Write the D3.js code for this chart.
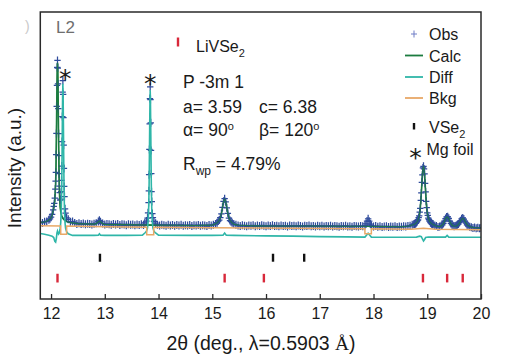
<!DOCTYPE html>
<html><head><meta charset="utf-8">
<script src="https://cdn.jsdelivr.net/npm/d3@7"></script>
<style>
body{margin:0;background:#fff;}
text{font-family:"Liberation Sans",Arial,Helvetica,sans-serif;}
</style></head><body>
<svg id="chart" width="523" height="357"></svg>
<script>
// ---------- data (2θ in degrees, intensity in arbitrary units) ----------
const obs = [
[11.80,31.9],[11.84,31.7],[11.88,32.2],[11.92,32.3],[11.96,33.0],[11.98,33.4],
[12.00,34.1],[12.02,35.3],[12.04,37.1],[12.05,38.6],[12.06,39.8],[12.07,42.0],[12.08,45.8],[12.085,49.1],[12.09,52.8],[12.095,60.2],
[12.10,69.0],[12.105,80.3],[12.11,89.0],[12.115,96.5],[12.12,99.4],[12.125,96.2],[12.13,89.6],[12.135,79.3],[12.14,68.9],[12.145,59.7],
[12.15,52.2],[12.155,47.0],[12.16,44.3],[12.17,41.2],[12.18,41.6],[12.19,44.7],[12.195,49.4],[12.20,55.4],[12.205,65.6],[12.21,76.0],
[12.215,86.2],[12.22,91.0],[12.225,85.3],[12.23,75.6],[12.235,64.1],[12.24,54.4],[12.245,46.9],[12.25,42.7],[12.26,37.6],[12.27,35.8],
[12.29,33.8],[12.32,33.2],[12.36,32.2],[12.40,32.3],
[12.44,31.7],[12.48,31.3],[12.52,31.6],[12.56,31.2],[12.60,31.5],[12.64,31.1],[12.68,31.4],[12.72,31.3],[12.76,31.0],[12.80,31.4],
[12.84,31.6],[12.88,32.3],[12.90,32.8],[12.92,32.2],[12.96,31.5],[13.00,31.0],[13.04,31.3],[13.08,31.1],[13.12,30.9],[13.16,31.3],
[13.20,31.0],[13.24,31.2],[13.28,30.8],[13.32,31.1],[13.36,31.0],[13.40,30.7],[13.44,31.1],[13.48,30.9],[13.52,31.0],[13.56,30.7],
[13.60,31.0],[13.64,30.8],[13.68,31.1],[13.72,30.8],
[13.745,31.7],[13.775,32.5],[13.795,33.7],[13.805,35.9],[13.815,40.2],[13.82,45.1],[13.825,51.8],[13.83,62.3],[13.835,73.0],[13.84,83.5],
[13.845,88.4],[13.85,83.1],[13.855,73.4],[13.86,61.9],[13.865,52.2],[13.87,44.7],[13.875,40.6],[13.885,35.6],[13.895,33.9],[13.915,32.3],[13.945,31.6],
[13.98,30.9],[14.02,30.6],[14.06,30.9],[14.10,30.7],[14.14,30.5],[14.18,30.9],[14.22,30.6],[14.26,30.8],[14.30,30.5],[14.34,30.8],
[14.38,30.6],[14.42,30.9],[14.46,30.5],[14.50,30.7],[14.54,30.6],[14.58,30.8],[14.62,30.4],[14.66,30.7],[14.70,30.6],[14.74,30.8],
[14.78,30.5],[14.82,30.7],[14.86,30.6],[14.90,30.4],[14.94,30.8],[14.98,30.6],[15.02,30.9],[15.06,31.2],
[15.09,31.8],[15.11,32.5],[15.13,32.9],[15.15,33.9],[15.17,35.5],[15.19,38.2],[15.21,40.7],[15.23,41.8],[15.25,40.5],[15.27,38.0],
[15.29,35.7],[15.31,33.7],[15.33,32.7],[15.35,32.2],[15.37,31.8],[15.40,31.2],
[15.44,30.9],[15.48,30.6],[15.52,30.4],[15.56,30.7],[15.60,30.5],[15.64,30.3],[15.68,30.6],[15.72,30.5],[15.76,30.7],[15.80,30.3],
[15.84,30.6],[15.88,30.4],[15.92,30.7],[15.96,30.5],[16.00,30.3],[16.04,30.6],[16.08,30.4],[16.12,30.7],[16.16,30.4],[16.20,30.5],
[16.24,30.3],[16.28,30.6],[16.32,30.4],[16.36,30.5],[16.40,30.2],[16.44,30.6],[16.48,30.4],[16.52,30.5],[16.56,30.3],[16.60,30.6],
[16.64,30.4],[16.68,30.2],[16.72,30.5],[16.76,30.4],[16.80,30.6],[16.84,30.3],[16.88,30.4],[16.92,30.2],[16.96,30.5],[17.00,30.3],
[17.04,30.5],[17.08,30.2],[17.12,30.4],[17.16,30.3],[17.20,30.5],[17.24,30.2],[17.28,30.4],[17.32,30.3],[17.36,30.1],[17.40,30.4],
[17.44,30.3],[17.48,30.5],[17.52,30.2],[17.56,30.3],[17.60,30.1],[17.64,30.4],[17.68,30.3],[17.72,30.2],[17.76,30.4],[17.80,30.3],
[17.84,30.6],[17.86,31.3],[17.88,32.5],[17.90,33.4],[17.92,32.4],[17.94,31.2],[17.96,30.6],
[18.00,30.2],[18.04,30.4],[18.08,30.1],[18.12,30.3],[18.16,30.0],[18.20,30.2],[18.24,30.3],[18.28,30.0],[18.32,30.2],[18.36,30.1],
[18.40,30.3],[18.44,30.0],[18.48,30.2],[18.52,30.1],[18.56,30.3],[18.60,30.2],[18.64,30.4],[18.68,30.5],[18.72,30.9],
[18.75,31.1],[18.76,31.2],[18.77,31.4],[18.78,31.5],[18.79,31.6],[18.80,32.0],[18.81,32.2],[18.82,32.8],[18.83,33.0],[18.84,33.9],
[18.85,34.6],[18.86,36.2],[18.87,37.8],[18.88,41.1],[18.89,44.2],[18.90,48.6],[18.91,51.7],[18.92,54.6],[18.93,55.3],[18.94,54.2],
[18.95,52.1],[18.96,48.2],[18.97,44.6],[18.98,40.7],[18.99,38.1],[19.00,35.9],[19.01,34.8],[19.02,33.7],[19.03,33.2],[19.04,32.6],
[19.05,32.4],[19.06,31.8],[19.07,31.8],[19.08,31.4],[19.09,31.4],[19.10,31.1],[19.11,31.1],
[19.14,30.6],[19.17,30.4],[19.20,30.0],[19.23,30.2],[19.26,30.5],[19.28,30.9],[19.30,31.5],[19.32,32.4],[19.34,33.5],[19.36,34.2],
[19.38,34.3],[19.40,33.6],[19.42,32.5],[19.44,31.5],[19.46,30.9],[19.48,30.5],[19.50,30.3],[19.52,30.4],[19.54,30.6],[19.56,30.9],
[19.58,31.3],[19.60,31.9],[19.62,32.6],[19.64,33.4],[19.66,33.8],[19.68,33.3],[19.70,32.4],[19.72,31.6],[19.74,30.9],[19.76,30.5],
[19.79,30.1],[19.82,29.9],[19.85,29.6],[19.88,29.8],[19.91,29.5],[19.94,29.7],[19.97,29.5],[20.00,29.6]
];
const calc = [
[11.80,31.85],[11.88,32.1],[11.94,32.6],[11.98,33.3],[12.00,33.9],[12.02,34.9],[12.04,36.9],[12.05,38.1],[12.06,39.4],[12.07,41.4],
[12.08,45.4],[12.085,48.4],[12.09,52.4],[12.095,59.4],[12.10,68.4],[12.105,79.4],[12.11,88.4],[12.115,95.4],[12.12,98.4],[12.125,95.4],
[12.13,88.4],[12.135,78.4],[12.14,67.4],[12.145,58.4],[12.15,50.4],[12.155,45.4],[12.16,41.9],[12.17,38.4],[12.18,36.4],[12.19,35.4],
[12.20,34.6],[12.22,33.6],[12.25,32.9],[12.30,32.2],[12.40,31.7],[12.50,31.4],[12.65,31.3],[12.80,31.2],[12.84,31.4],[12.87,32.0],
[12.90,32.5],[12.93,32.0],[12.96,31.4],[13.00,31.1],[13.30,31.0],[13.60,30.9],[13.90,30.8],[14.30,30.7],[14.70,30.6],[15.00,30.8],
[15.05,31.2],[15.09,31.7],[15.11,32.2],[15.13,32.8],[15.15,33.8],[15.17,35.6],[15.19,38.1],[15.21,40.6],[15.23,41.6],[15.25,40.6],
[15.27,38.1],[15.29,35.6],[15.31,33.8],[15.33,32.8],[15.35,32.2],[15.37,31.7],[15.41,31.1],[15.50,30.7],[15.70,30.5],[16.20,30.4],
[16.80,30.4],[17.40,30.3],[17.80,30.3],[18.20,30.2],[18.50,30.1],[18.62,30.3],[18.68,30.5],[18.72,30.8],[18.75,31.0],[18.78,31.4],
[18.80,31.8],[18.82,32.5],[18.84,33.7],[18.85,34.6],[18.86,36.0],[18.87,37.8],[18.88,40.8],[18.89,44.3],[18.90,48.3],[18.91,51.8],
[18.92,54.3],[18.93,55.1],[18.94,54.3],[18.95,51.8],[18.96,48.3],[18.97,44.3],[18.98,40.8],[18.99,37.8],[19.00,36.0],[19.01,34.6],
[19.02,33.7],[19.04,32.5],[19.06,31.8],[19.08,31.4],[19.11,31.0],[19.15,30.6],[19.20,30.2],[19.24,30.2],[19.28,30.8],[19.30,31.4],
[19.32,32.3],[19.34,33.4],[19.36,34.1],[19.37,34.2],[19.38,34.1],[19.40,33.4],[19.42,32.3],[19.44,31.4],[19.46,30.8],[19.50,30.3],
[19.54,30.4],[19.56,30.7],[19.58,31.1],[19.60,31.7],[19.62,32.5],[19.64,33.3],[19.66,33.6],[19.68,33.3],[19.70,32.5],[19.72,31.7],
[19.74,31.0],[19.78,30.3],[19.85,29.8],[20.00,29.6]
];
const diff = [
[11.80,27.3],[11.88,27.0],[11.96,26.6],[12.02,26.2],[12.05,25.6],[12.07,24.0],[12.085,23.7],[12.10,25.5],[12.11,27.5],[12.12,28.3],
[12.13,27.6],[12.14,27.0],[12.15,27.3],[12.16,28.3],[12.17,29.5],[12.18,31.8],[12.19,36.8],[12.195,41.8],[12.20,49.6],[12.205,60.7],
[12.21,73.0],[12.215,84.2],[12.22,89.7],[12.225,84.2],[12.23,73.0],[12.235,60.7],[12.24,49.6],[12.245,41.8],[12.25,36.8],[12.26,31.8],
[12.27,29.5],[12.29,28.0],[12.32,27.2],[12.40,26.5],[12.80,26.5],[12.88,26.6],[12.90,27.2],[12.92,26.6],[13.00,26.5],[13.40,26.5],
[13.70,26.6],[13.745,27.5],[13.775,28.2],[13.795,29.7],[13.805,31.8],[13.815,36.5],[13.82,41.5],[13.825,48.5],[13.83,59.5],[13.835,71.0],
[13.84,81.5],[13.845,87.0],[13.85,81.5],[13.855,71.0],[13.86,59.5],[13.865,48.5],[13.87,41.5],[13.875,36.5],[13.885,31.8],[13.895,29.7],
[13.915,28.2],[13.945,27.5],[14.00,26.6],[14.60,26.5],[15.00,26.5],[15.20,26.6],[15.23,27.5],[15.26,26.6],[15.40,26.5],[16.00,26.3],
[16.50,26.2],[17.00,26.0],[17.50,25.9],[17.84,25.8],[17.87,26.6],[17.90,27.4],[17.93,26.6],[17.96,25.8],[18.40,25.7],[18.80,25.8],
[18.86,26.2],[18.89,26.0],[18.91,25.0],[18.93,24.2],[18.95,24.8],[18.97,25.6],[19.02,25.8],[19.34,25.8],[19.37,26.5],[19.40,25.8],
[20.00,25.7]
];
const bkg = [
[11.80,30.5],[12.18,30.4],[12.18,27.0],[12.29,27.0],[12.29,30.4],[13.00,30.1],[13.78,29.9],[13.78,26.8],[13.91,26.8],[13.91,29.9],
[15.00,29.7],[16.50,29.5],[17.84,29.3],[17.84,27.2],[17.96,27.2],[17.96,29.3],[18.70,29.1],[18.93,29.5],[19.15,29.1],[20.00,28.9]
];
const refLiVSe2 = [12.12, 15.23, 15.96, 18.92, 19.37, 19.66];
const refVSe2 = [12.91, 16.13, 16.71];
const mgFoilPeaks = [12.22, 13.845];
const xTicks = [12, 13, 14, 15, 16, 17, 18, 19, 20];
const legendSeries = ["Obs", "Calc", "Diff", "Bkg"];
const phaseRows = {VSe2: 17.2, LiVSe2: 8.7};

// ---------- styles ----------
const C = {obs:"#2f4b9c", obsLegend:"#6f7cc6", calc:"#1c7c3f", diff:"#2fb6a8", bkg:"#e8a867",
           vse2:"#111", livse2:"#d8283a", axis:"#2a2a2a", text:"#1a1a1a"};

const svg = d3.select("#chart");
const L = 40.3, R = 481, T = 12, B = 299;
const x = d3.scaleLinear().domain([11.8, 20]).range([L, R]);
const y = d3.scaleLinear().domain([0, 120]).range([B, 11]);

const plot = svg.append("g");
svg.append("clipPath").attr("id", "plotclip").append("rect")
  .attr("x", L).attr("y", T).attr("width", R - L).attr("height", B - T);
plot.attr("clip-path", "url(#plotclip)");

const line = d3.line().x(d => x(d[0])).y(d => y(d[1]));

// calc (under the markers)
plot.append("path").datum(calc).attr("d", line)
  .attr("fill", "none").attr("stroke", C.calc).attr("stroke-width", 1.6);

// obs "+" markers
plot.append("g").selectAll("path").data(obs).join("path")
  .attr("transform", d => `translate(${x(d[0])},${y(d[1])})`)
  .attr("d", "M-3.2,0H3.2M0,-4V4")
  .attr("stroke", C.obs).attr("stroke-width", 1.25).attr("fill", "none");

// calc again, thin, on top so it shows through the markers in the peaks
plot.append("path").datum(calc).attr("d", line)
  .attr("fill", "none").attr("stroke", C.calc).attr("stroke-width", 1.1).attr("opacity", 0.85);

// diff
plot.append("path").datum(diff).attr("d", line)
  .attr("fill", "none").attr("stroke", C.diff).attr("stroke-width", 1.6);

// bkg
plot.append("path").datum(bkg).attr("d", line)
  .attr("fill", "none").attr("stroke", C.bkg).attr("stroke-width", 1.5);

// reflection ticks
plot.append("g").selectAll("line").data(refVSe2).join("line")
  .attr("x1", d => x(d)).attr("x2", d => x(d))
  .attr("y1", y(phaseRows.VSe2) - 4).attr("y2", y(phaseRows.VSe2) + 4)
  .attr("stroke", C.vse2).attr("stroke-width", 2.4);
plot.append("g").selectAll("line").data(refLiVSe2).join("line")
  .attr("x1", d => x(d)).attr("x2", d => x(d))
  .attr("y1", y(phaseRows.LiVSe2) - 4.3).attr("y2", y(phaseRows.LiVSe2) + 4.3)
  .attr("stroke", C.livse2).attr("stroke-width", 2.4);

// Mg foil asterisks
svg.append("g").selectAll("text").data(mgFoilPeaks).join("text")
  .attr("x", (d, i) => x(d) + (i === 0 ? 2.5 : 0))
  .attr("y", (d, i) => i === 0 ? 87 : 92)
  .attr("text-anchor", "middle")
  .style("font-family", "'DejaVu Sans',sans-serif").style("font-size", "25px")
  .attr("fill", C.text).text("*");

// frame
svg.append("rect").attr("x", L).attr("y", T).attr("width", R - L).attr("height", B - T)
  .attr("fill", "none").attr("stroke", C.axis).attr("stroke-width", 1.5);

// x axis
const ax = svg.append("g").attr("transform", `translate(0,${B})`)
  .call(d3.axisBottom(x).tickValues(xTicks).tickSize(-5).tickPadding(9).tickFormat(d3.format("d")));
ax.select(".domain").remove();
ax.selectAll(".tick line").attr("stroke", C.axis).attr("stroke-width", 1.3);
ax.selectAll(".tick text").attr("fill", C.text)
  .style("font-family", "'Liberation Sans',Arial,sans-serif").style("font-size", "16px");

// axis titles
const xt = svg.append("text").attr("x", 261).attr("y", 350).attr("text-anchor", "middle")
  .attr("fill", C.text).style("font-size", "19.5px");
xt.append("tspan").text("2θ (deg., λ=0.5903 ");
xt.append("tspan").style("font-family", "'Liberation Serif','Times New Roman',serif").text("Å");
xt.append("tspan").text(")");

svg.append("text").attr("transform", "rotate(-90)").attr("x", -168).attr("y", 21)
  .attr("text-anchor", "middle").attr("fill", C.text).style("font-size", "19px")
  .text("Intensity (a.u.)");

// panel label
svg.append("text").attr("x", 56).attr("y", 33).attr("fill", "#6e6e6e").style("font-size", "17px").text("L2");
svg.append("text").attr("x", 25).attr("y", 31).attr("fill", "#c9c9c9").style("font-size", "14px").text(")");

// LiVSe2 phase label
svg.append("line").attr("x1", 178).attr("x2", 178).attr("y1", 37.5).attr("y2", 46.5)
  .attr("stroke", C.livse2).attr("stroke-width", 2.4);
const lv = svg.append("text").attr("x", 196).attr("y", 51.5).attr("fill", C.text).style("font-size", "16px");
lv.append("tspan").text("LiVSe");
lv.append("tspan").attr("dy", 5).style("font-size", "11px").text("2");

// structure annotations
const ann = svg.append("g").attr("fill", C.text).style("font-size", "17.5px");
ann.append("text").attr("x", 183).attr("y", 88).text("P -3m 1");
ann.append("text").attr("x", 183).attr("y", 113).text("a= 3.59");
ann.append("text").attr("x", 259).attr("y", 113).text("c= 6.38");
const al = ann.append("text").attr("x", 183).attr("y", 136);
al.append("tspan").text("α= 90");
al.append("tspan").attr("dy", -6).style("font-size", "11px").text("o");
const be = ann.append("text").attr("x", 259).attr("y", 136);
be.append("tspan").text("β= 120");
be.append("tspan").attr("dy", -6).style("font-size", "11px").text("o");
const rw = ann.append("text").attr("x", 183).attr("y", 170);
rw.append("tspan").text("R");
rw.append("tspan").attr("dy", 5).style("font-size", "12px").text("wp");
rw.append("tspan").attr("dy", -5).text(" = 4.79%");

// legend
const lg = svg.append("g").style("font-size", "16px").attr("fill", C.text);
const rowsY = [40, 61.5, 83, 104];
legendSeries.forEach((s, i) => {
  lg.append("text").attr("x", 429).attr("y", rowsY[i]).text(s);
});
lg.append("path").attr("transform", `translate(414,${rowsY[0] - 6})`).attr("d", "M-3,0H3M0,-3.5V3.5")
  .attr("stroke", C.obsLegend).attr("stroke-width", 1).attr("fill", "none");
[["Calc", C.calc], ["Diff", C.diff], ["Bkg", C.bkg]].forEach(([s, col]) => {
  const i = legendSeries.indexOf(s);
  lg.append("line").attr("x1", 405).attr("x2", 423).attr("y1", rowsY[i] - 6).attr("y2", rowsY[i] - 6)
    .attr("stroke", col).attr("stroke-width", 1.8);
});
lg.append("line").attr("x1", 414).attr("x2", 414).attr("y1", 123).attr("y2", 129.5)
  .attr("stroke", C.vse2).attr("stroke-width", 2.4);
const vl = lg.append("text").attr("x", 429).attr("y", 133);
vl.append("tspan").text("VSe");
vl.append("tspan").attr("dy", 5).style("font-size", "11px").text("2");
lg.append("text").attr("x", 415.5).attr("y", 166).attr("text-anchor", "middle")
  .style("font-family", "'DejaVu Sans',sans-serif").style("font-size", "25px").text("*");
lg.append("text").attr("x", 426.5).attr("y", 155).text("Mg foil");
</script>
</body></html>
